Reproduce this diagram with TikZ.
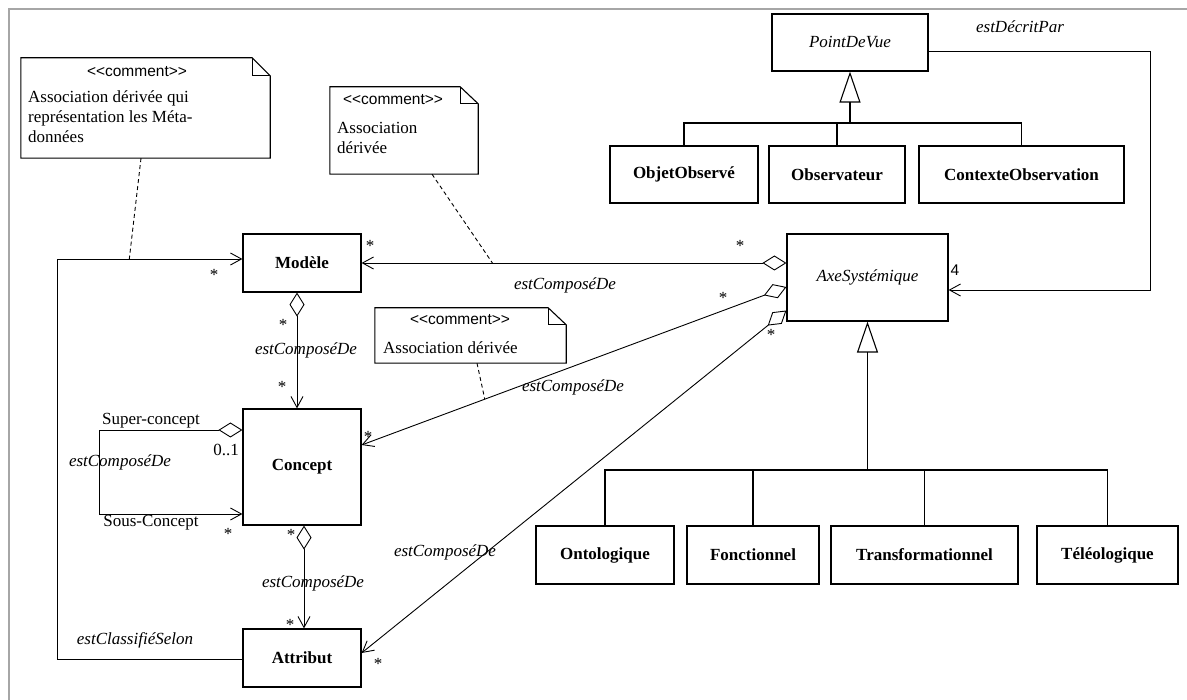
\documentclass[tikz,border=0pt]{standalone}
\usepackage{fontspec}
\setmainfont{Liberation Serif}
\newfontfamily\cmtsans{Liberation Sans}
\usetikzlibrary{arrows.meta,calc}
\newcommand\mysz{\fontsize{17}{20}\selectfont}
\begin{document}
\begin{tikzpicture}[x=1pt,y=-1pt,
  every node/.style={font=\mysz, inner sep=0pt},
  cls/.style={draw, line width=1.2pt, font=\mysz\bfseries},
  abscls/.style={draw, line width=1.2pt, font=\mysz\itshape},
  lbl/.style={font=\mysz\itshape},
  mult/.style={font=\mysz},
  stereo/.style={font=\cmtsans\fontsize{15.5}{18}\selectfont},
  notebox/.style={draw=none},
  noteline/.style={line width=1.1pt},
  link/.style={line width=1.1pt},
  assoc/.style={line width=0.9pt, -{Straight Barb[length=11pt,width=12pt,line width=0.9pt]}},
  agg/.style={line width=0.9pt, {Diamond[open,length=24pt,width=15pt,line width=0.9pt]}-{Straight Barb[length=11pt,width=12pt,line width=0.9pt]}},
  gen/.style={line width=1.1pt, -{Triangle[open,length=31pt,width=21pt,line width=1.1pt]}},
  anchorline/.style={line width=0.9pt, dash pattern=on 4pt off 3pt}
]
\useasboundingbox (0,0) rectangle (1187,700);
\fill[white] (0,0) rectangle (1187,700);
\draw[gray!70, line width=2.5pt] (9,700) -- (9,9) -- (1187,9);

% classes
\node[abscls, minimum width=156, minimum height=57] (pdv) at (850,42.5) {PointDeVue};
\node[cls, minimum width=148, minimum height=57] (obj) at (684,174.5) {ObjetObservé};
\node[cls, minimum width=136, minimum height=57] (obs) at (837,174.5) {Observateur};
\node[cls, minimum width=205, minimum height=57] (ctx) at (1021.5,174.5) {ContexteObservation};
\node[abscls, minimum width=161, minimum height=87] (axe) at (867.5,277.5) {AxeSystémique};
\node[cls, minimum width=118, minimum height=58] (mod) at (302,263) {Modèle};
\node[cls, minimum width=118, minimum height=116] (con) at (302,467) {Concept};
\node[cls, minimum width=118, minimum height=58] (att) at (302,658) {Attribut};
\node[cls, minimum width=138, minimum height=58] (onto) at (605,555) {Ontologique};
\node[cls, minimum width=132, minimum height=58] (fonc) at (753,555) {Fonctionnel};
\node[cls, minimum width=187, minimum height=58] (trans) at (924.5,555) {Transformationnel};
\node[cls, minimum width=141, minimum height=58] (tele) at (1107.5,555) {Téléologique};

% generalisation trees
\coordinate (j1) at (850,123);
\draw[gen] (j1) -- (pdv.south);
\draw[link] (obj.north) |- (ctx.north |- j1) -- (ctx.north);
\draw[link] (obs.north) -- (obs.north |- j1);
\coordinate (j2) at (867.5,470);
\draw[gen] (j2) -- (axe.south);
\draw[link] (onto.north) |- (tele.north |- j2) -- (tele.north);
\draw[link] (fonc.north) -- (fonc.north |- j2);
\draw[link] (trans.north) -- (trans.north |- j2);

% estDecritPar
\coordinate (edp) at (1150,290);
\draw[assoc] ([yshift=-8.5pt]pdv.east) -| (edp) -- ([yshift=-12.5pt]axe.east);
\node[lbl] at (1020,27) {estDécritPar};
\node[stereo] at (955,270) {4};

% Modele - Axe
\draw[agg] (axe.west |- mod.east) -- coordinate[pos=0.692] (k2) (mod.east);
\node[mult] at (370,246) {*};
\node[mult] at (740,246) {*};
\node[lbl] at (565,285) {estComposéDe};

% Axe - Concept
\draw[agg] ([yshift=-9.5pt]axe.west) -- coordinate[pos=0.71] (k3) ([yshift=22pt]con.east);
\node[mult] at (723,298) {*};
\node[mult] at (368,437) {*};
\node[lbl] at (573,387) {estComposéDe};

% Axe - Attribut
\draw[agg] ([yshift=-33pt]axe.west) -- ([yshift=5pt]att.east);
\node[mult] at (771,335) {*};
\node[mult] at (378,664) {*};
\node[lbl] at (445,552) {estComposéDe};

% Modele - Concept
\draw[agg] ([xshift=-5pt]mod.south) -- ([xshift=-5pt]con.north);
\node[mult] at (283,325) {*};
\node[lbl] at (306,350) {estComposéDe};
\node[mult] at (282,387) {*};

% Concept - Attribut
\draw[agg] ([xshift=2pt]con.south) -- ([xshift=2pt]att.north);
\node[mult] at (291,535) {*};
\node[lbl] at (313,583) {estComposéDe};
\node[mult] at (290,625) {*};

% Concept self association
\coordinate (s1) at (99,430);
\coordinate (s2) at (99,514);
\draw[agg] ([yshift=37pt]con.west) -- (s1) -- (s2) -- ([yshift=-47pt]con.west);
\node[mult] at (151,421) {Super-concept};
\node[mult] at (226,450) {0..1};
\node[lbl] at (120,462) {estComposéDe};
\node[mult] at (151,523) {Sous-Concept};
\node[mult] at (228,534) {*};

% estClassifieSelon
\coordinate (e1) at (57,659);
\coordinate (e2) at (57,259);
\draw[assoc] ([yshift=-1pt]att.west) -- (e1) -- (e2) -- coordinate[pos=0.39] (k1) ([yshift=4pt]mod.west);
\node[lbl] at (135,640) {estClassifiéSelon};
\node[mult] at (214,275) {*};

% comments
\node[notebox, minimum width=249, minimum height=100] (c1) at (145.5,108) {};
\draw[noteline] (c1.north west) -- ([xshift=-18pt]c1.north east) -- ([yshift=-18pt]c1.north east) -- (c1.south east) -- (c1.south west) -- cycle;
\draw[noteline] ([xshift=-18pt]c1.north east) |- ([yshift=-18pt]c1.north east);
\node[stereo] at (137,72) {<\kern0pt<comment>\kern0pt>};
\node[align=left, anchor=west] at (28,117) {Association dérivée qui\\représentation les Méta-\\données};

\node[notebox, minimum width=148, minimum height=87] (c2) at (404,130.5) {};
\draw[noteline] (c2.north west) -- ([xshift=-18pt]c2.north east) -- ([yshift=-17pt]c2.north east) -- (c2.south east) -- (c2.south west) -- cycle;
\draw[noteline] ([xshift=-18pt]c2.north east) |- ([yshift=-17pt]c2.north east);
\node[stereo] at (393,100) {<\kern0pt<comment>\kern0pt>};
\node[align=left, anchor=west] at (337,137.5) {Association\\dérivée};

\node[notebox, minimum width=191, minimum height=55] (c3) at (470.5,335.5) {};
\draw[noteline] (c3.north west) -- ([xshift=-18pt]c3.north east) -- ([yshift=-17pt]c3.north east) -- (c3.south east) -- (c3.south west) -- cycle;
\draw[noteline] ([xshift=-18pt]c3.north east) |- ([yshift=-17pt]c3.north east);
\node[stereo] at (460,320) {<\kern0pt<comment>\kern0pt>};
\node[anchor=west] at (383,348) {Association dérivée};

% comment anchors
\draw[anchorline] ([xshift=-4.5pt]c1.south) -- (k1);
\draw[anchorline] ([xshift=28pt]c2.south) -- (k2);
\draw[anchorline] ([xshift=6.5pt]c3.south) -- (k3);
\end{tikzpicture}
\end{document}
